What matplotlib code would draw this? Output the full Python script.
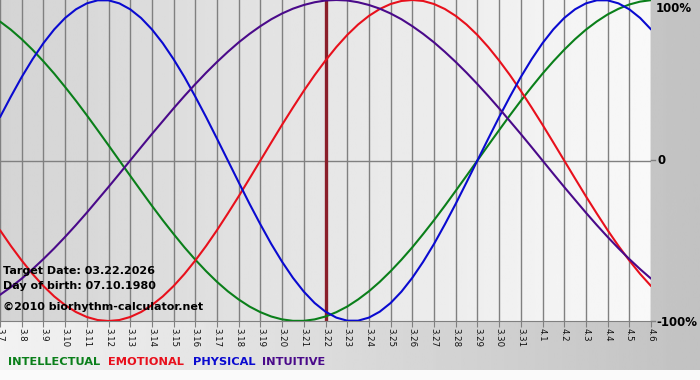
import numpy as np
import matplotlib
matplotlib.use('Agg')
import matplotlib.pyplot as plt

# days shown: 3.7 .. 4.6
day_labels = ['3.7', '3.8', '3.9', '3.10', '3.11', '3.12', '3.13', '3.14', '3.15', '3.16',
              '3.17', '3.18', '3.19', '3.20', '3.21', '3.22', '3.23', '3.24', '3.25', '3.26',
              '3.27', '3.28', '3.29', '3.30', '3.31', '4.1', '4.2', '4.3', '4.4', '4.5', '4.6']
target_idx = 15  # 3.22

# values every half day (fraction of 100%)
physical = [0.270, 0.398, 0.520, 0.631, 0.731, 0.817, 0.888, 0.942, 0.979, 0.998,
            0.998, 0.979, 0.942, 0.888, 0.817, 0.731, 0.631, 0.520, 0.398, 0.270,
            0.136, 0.000, -0.136, -0.270, -0.398, -0.520, -0.631, -0.731, -0.817, -0.888,
            -0.942, -0.979, -0.998, -0.998, -0.979, -0.942, -0.888, -0.817, -0.731, -0.631,
            -0.520, -0.398, -0.270, -0.136, 0.000, 0.136, 0.270, 0.398, 0.520, 0.631,
            0.731, 0.817, 0.888, 0.942, 0.979, 0.998, 0.998, 0.979, 0.942, 0.888,
            0.817]
emotional = [-0.434, -0.532, -0.623, -0.707, -0.782, -0.847, -0.901, -0.944, -0.975, -0.994,
             -1.000, -0.994, -0.975, -0.944, -0.901, -0.847, -0.782, -0.707, -0.623, -0.532,
             -0.434, -0.330, -0.223, -0.112, 0.000, 0.112, 0.223, 0.330, 0.434, 0.532,
             0.623, 0.707, 0.782, 0.847, 0.901, 0.944, 0.975, 0.994, 1.000, 0.994,
             0.975, 0.944, 0.901, 0.847, 0.782, 0.707, 0.623, 0.532, 0.434, 0.330,
             0.223, 0.112, 0.000, -0.112, -0.223, -0.330, -0.434, -0.532, -0.623, -0.707,
             -0.782]
intellectual = [0.866, 0.815, 0.756, 0.690, 0.618, 0.541, 0.458, 0.372, 0.282, 0.189,
                0.095, 0.000, -0.095, -0.189, -0.282, -0.372, -0.458, -0.541, -0.618, -0.690,
                -0.756, -0.815, -0.866, -0.910, -0.945, -0.972, -0.990, -0.999, -0.999, -0.990,
                -0.972, -0.945, -0.910, -0.866, -0.815, -0.756, -0.690, -0.618, -0.541, -0.458,
                -0.372, -0.282, -0.189, -0.095, 0.000, 0.095, 0.189, 0.282, 0.372, 0.458,
                0.541, 0.618, 0.690, 0.756, 0.815, 0.866, 0.910, 0.945, 0.972, 0.990,
                0.999]
intuitive = [-0.837, -0.789, -0.736, -0.677, -0.614, -0.547, -0.476, -0.402, -0.325, -0.245,
             -0.165, -0.083, 0.000, 0.083, 0.165, 0.245, 0.325, 0.402, 0.476, 0.547,
             0.614, 0.677, 0.736, 0.789, 0.837, 0.880, 0.916, 0.946, 0.969, 0.986,
             0.997, 1.000, 0.997, 0.986, 0.969, 0.946, 0.916, 0.880, 0.837, 0.789,
             0.736, 0.677, 0.614, 0.547, 0.476, 0.402, 0.325, 0.245, 0.165, 0.083,
             0.000, -0.083, -0.165, -0.245, -0.325, -0.402, -0.476, -0.547, -0.614, -0.677,
             -0.736]

series = [('INTELLECTUAL', intellectual, '#0a7f1a'),
          ('EMOTIONAL', emotional, '#e8101c'),
          ('PHYSICAL', physical, '#0a0ad0'),
          ('INTUITIVE', intuitive, '#4a0a8a')]

W, H = 700, 380
fig = plt.figure(figsize=(W / 100, H / 100), dpi=100)
fig.patch.set_facecolor('#fafafa')

# figure background gradient
bg = fig.add_axes([0, 0, 1, 1], zorder=-2)
bg.set_xlim(0, 1)
bg.set_ylim(0, 1)
bg.axis('off')
grad = np.linspace(0.95, 0.76, 256).reshape(1, -1)
bg.imshow(grad, cmap='gray', vmin=0, vmax=1, aspect='auto',
          extent=[0, 1, 10 / H, 1], zorder=0)

ax = fig.add_axes([0, 59 / H, 651 / W, 321 / H])
days = np.arange(len(day_labels))
ax.set_xlim(0, len(day_labels) - 1)
ax.set_ylim(-1, 1)

# plot area gradient
pgrad = np.linspace(0.83, 0.975, 256).reshape(1, -1)
ax.imshow(pgrad, cmap='gray', vmin=0, vmax=1, aspect='auto',
          extent=[0, len(day_labels) - 1, -1, 1], zorder=0)

for d in days:
    ax.axvline(d, color='#808080', lw=1, zorder=1)
ax.axhline(0, color='#808080', lw=1, zorder=1)
ax.axvline(days[target_idx], color='#8a1f2a', lw=2.4, zorder=2)

for name, vals, col in series:
    xs = np.arange(len(vals)) * 0.5
    ax.plot(xs, vals, color=col, lw=1.5, zorder=3, solid_capstyle='round')

for s in ax.spines.values():
    s.set_visible(False)
ax.spines['bottom'].set_visible(True)
ax.spines['bottom'].set_color('#808080')

ax.set_xticks(days)
ax.set_xticklabels(day_labels, rotation=-90, fontsize=6.2, color='#111111')
ax.tick_params(axis='x', length=4, color='#808080', pad=1)
ax.set_yticks([])

# right side percentage labels
fig.text(656 / W, 1 - 2 / H, '100%', fontsize=8.5, fontweight='bold', va='top', ha='left')
fig.text(658 / W, 1 - 161 / H, '0', fontsize=8.5, fontweight='bold', va='center', ha='left')
fig.text(656 / W, 1 - 322 / H, '-100%', fontsize=8.5, fontweight='bold', va='center', ha='left')
fig.add_artist(plt.Line2D([651 / W, 655 / W], [1 - 160.5 / H] * 2, color='#808080', lw=1))
fig.add_artist(plt.Line2D([651 / W, 655 / W], [1 - 321 / H] * 2, color='#808080', lw=1))

# info text
fig.text(3 / W, 1 - 271 / H, 'Target Date: 03.22.2026', fontsize=8, fontweight='bold', va='center')
fig.text(3 / W, 1 - 286 / H, 'Day of birth: 07.10.1980', fontsize=8, fontweight='bold', va='center')
fig.text(3 / W, 1 - 307 / H, '\u00a92010 biorhythm-calculator.net', fontsize=8, fontweight='bold', va='center')

# legend row
leg_x = [8, 108, 193, 262]
for (name, vals, col), lx in zip(series, leg_x):
    fig.text(lx / W, 1 - 362 / H, name, fontsize=8.2, fontweight='bold', color=col, va='center')

fig.savefig('out.png', dpi=100)
